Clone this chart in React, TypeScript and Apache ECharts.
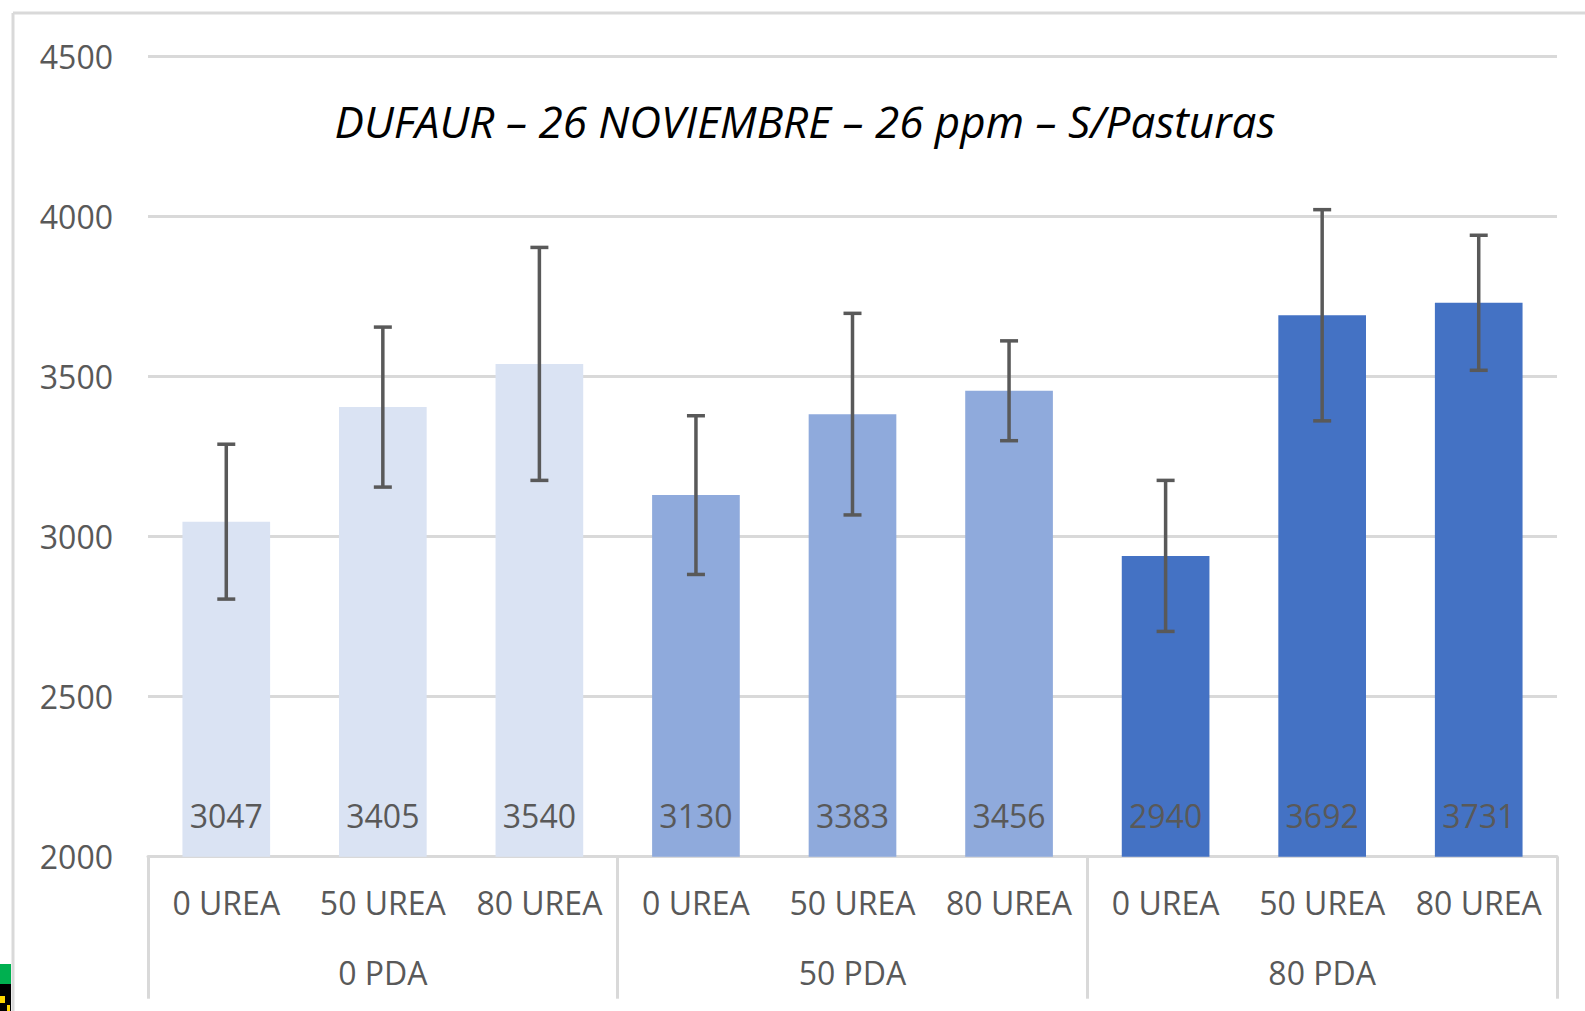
import React, { useEffect, useRef } from "react";
import * as echarts from "echarts";

const categories = ["0 UREA", "50 UREA", "80 UREA", "0 UREA", "50 UREA", "80 UREA", "0 UREA", "50 UREA", "80 UREA"];
const groups = ["0 PDA", "50 PDA", "80 PDA"];
const values = [3047, 3405, 3540, 3130, 3383, 3456, 2940, 3692, 3731];
const errors = [242, 250, 364, 248, 315, 156, 236, 330, 211];
const barColors = ["#DAE3F3", "#DAE3F3", "#DAE3F3", "#8FAADC", "#8FAADC", "#8FAADC", "#4472C4", "#4472C4", "#4472C4"];
const yTicks = { min: 2000, max: 4500, interval: 500 };
const titleText = "DUFAUR – 26 NOVIEMBRE – 26 ppm – S/Pasturas";

const FONT = "'Open Sans', sans-serif";
const GREY = "#595959";
const LINE = "#D9D9D9";

export default function App() {
  const ref = useRef<HTMLDivElement>(null);

  useEffect(() => {
    if (!ref.current) return;
    const chart = echarts.init(ref.current, null, { renderer: "svg" });

    const errData = values.map((v, i) => [i, v - errors[i], v + errors[i]]);

    chart.setOption({
      animation: false,
      backgroundColor: "#FFFFFF",
      grid: { left: 148, right: 28, top: 56.7, bottom: 154.3, containLabel: false },
      xAxis: [
        {
          type: "category",
          data: categories,
          position: "bottom",
          offset: 0,
          boundaryGap: true,
          axisLine: { show: true, lineStyle: { color: LINE, width: 3 } },
          axisTick: { show: false },
          axisLabel: {
            interval: 0,
            margin: 30,
            color: GREY,
            fontFamily: FONT,
            fontSize: 32,
            lineHeight: 32,
          },
          splitLine: { show: false },
        },
        {
          type: "category",
          data: groups,
          position: "bottom",
          offset: 0,
          boundaryGap: true,
          axisLine: { show: false },
          axisTick: {
            show: true,
            interval: 0,
            alignWithLabel: false,
            length: 142,
            lineStyle: { color: LINE, width: 3 },
          },
          axisLabel: {
            interval: 0,
            margin: 100,
            color: GREY,
            fontFamily: FONT,
            fontSize: 32,
            lineHeight: 32,
          },
          splitLine: { show: false },
        },
      ],
      yAxis: {
        type: "value",
        min: yTicks.min,
        max: yTicks.max,
        interval: yTicks.interval,
        axisLine: { show: false },
        axisTick: { show: false },
        axisLabel: {
          margin: 35,
          color: GREY,
          fontFamily: FONT,
          fontSize: 32,
          formatter: (v: number) => String(v),
        },
        splitLine: { show: true, lineStyle: { color: LINE, width: 3 } },
      },
      series: [
        {
          type: "bar",
          xAxisIndex: 0,
          yAxisIndex: 0,
          barCategoryGap: "44%",
          data: values.map((v, i) => ({ value: v, itemStyle: { color: barColors[i] } })),
          label: {
            show: true,
            position: "insideBottom",
            distance: 25,
            color: GREY,
            fontFamily: FONT,
            fontSize: 32,
            lineHeight: 32,
          },
        },
        {
          type: "custom",
          xAxisIndex: 0,
          yAxisIndex: 0,
          data: errData,
          z: 5,
          renderItem: (params: any, api: any) => {
            const idx = api.value(0);
            const low = api.coord([idx, api.value(1)]);
            const high = api.coord([idx, api.value(2)]);
            const half = 9;
            const style = { stroke: "#595959", lineWidth: 3.5 };
            return {
              type: "group",
              children: [
                { type: "line", shape: { x1: low[0], y1: low[1], x2: high[0], y2: high[1] }, style },
                { type: "line", shape: { x1: high[0] - half, y1: high[1], x2: high[0] + half, y2: high[1] }, style },
                { type: "line", shape: { x1: low[0] - half, y1: low[1], x2: low[0] + half, y2: low[1] }, style },
              ],
            };
          },
        },
      ],
      graphic: [
        {
          type: "line",
          shape: { x1: 13, y1: 13, x2: 1585, y2: 13 },
          style: { stroke: LINE, lineWidth: 3 },
          z: 10,
        },
        {
          type: "line",
          shape: { x1: 13, y1: 13, x2: 13, y2: 1011 },
          style: { stroke: LINE, lineWidth: 3 },
          z: 10,
        },
        {
          type: "text",
          x: 805,
          y: 121,
          style: {
            text: titleText,
            fontFamily: FONT,
            fontStyle: "italic",
            fontSize: 44,
            fill: "#000000",
            textAlign: "center",
            textVerticalAlign: "middle",
          },
          z: 10,
        },
        { type: "rect", shape: { x: 0, y: 964, width: 11, height: 20 }, style: { fill: "#00B050" }, z: 10 },
        { type: "rect", shape: { x: 0, y: 984, width: 11, height: 27 }, style: { fill: "#000000" }, z: 10 },
        { type: "rect", shape: { x: 0, y: 996, width: 5, height: 7 }, style: { fill: "#FFD700" }, z: 11 },
        { type: "rect", shape: { x: 7, y: 1005, width: 3, height: 6 }, style: { fill: "#FFD700" }, z: 11 },
      ],
    });

    return () => chart.dispose();
  }, []);

  return (
    <div
      ref={ref}
      style={{ position: "absolute", left: 0, top: 0, width: 1585, height: 1011, background: "#FFFFFF" }}
    />
  );
}
